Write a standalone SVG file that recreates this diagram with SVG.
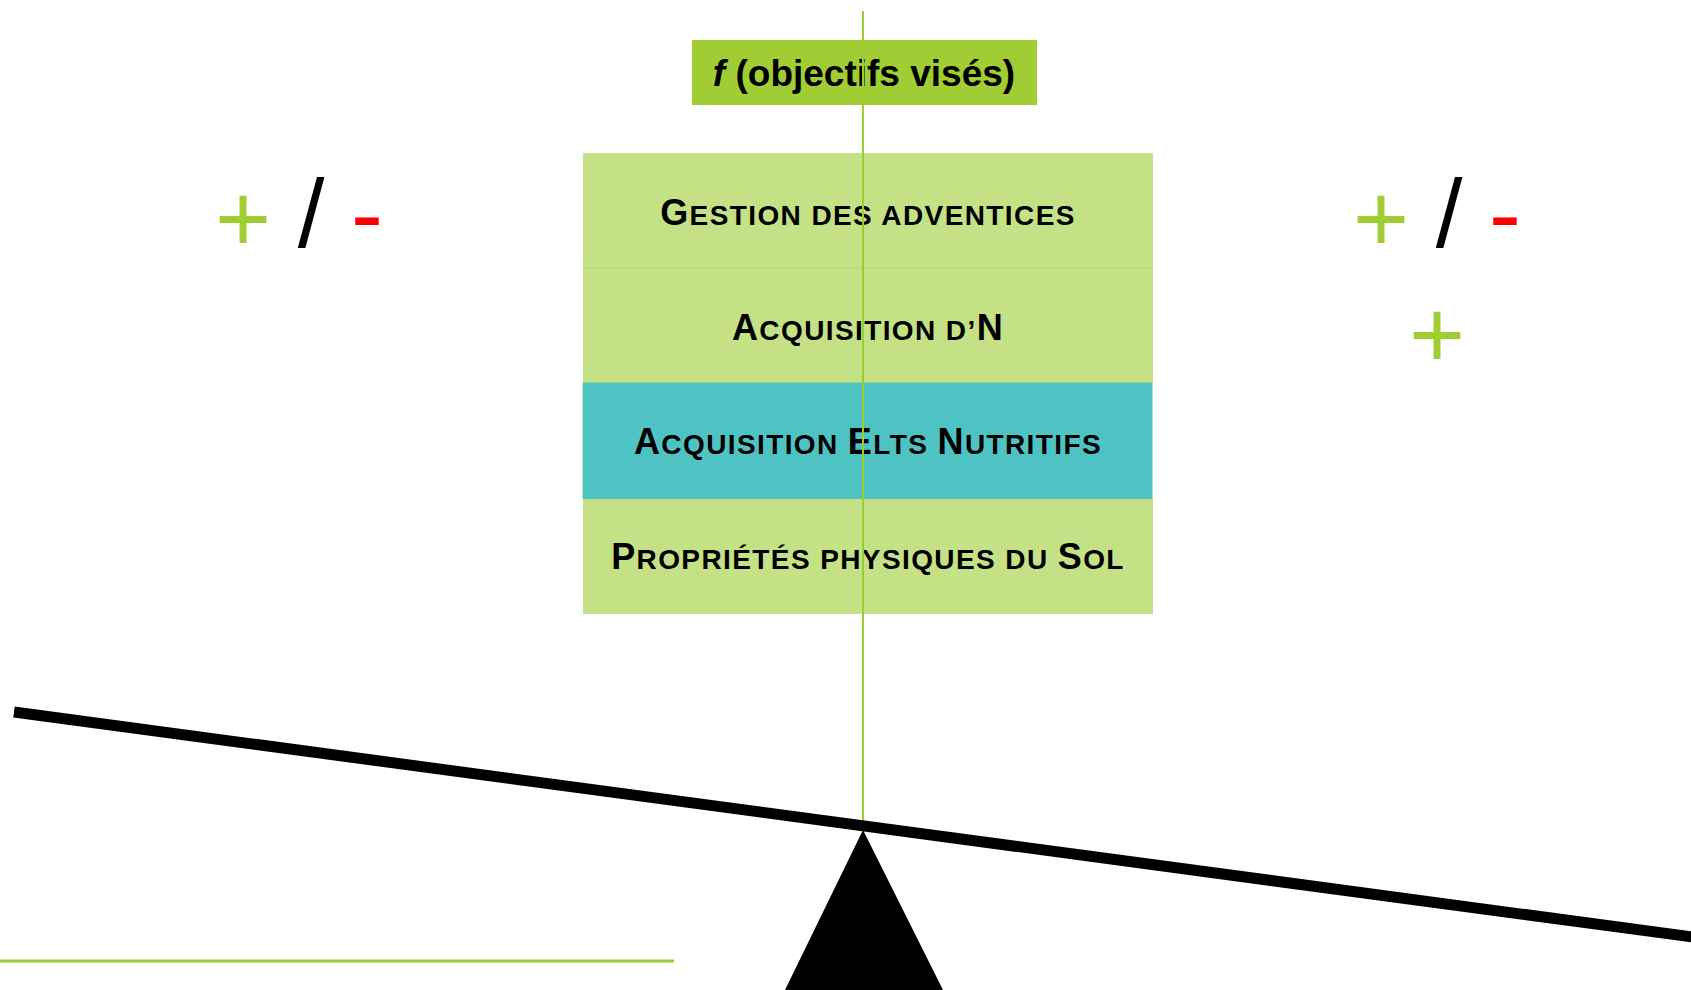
<svg xmlns="http://www.w3.org/2000/svg" width="1691" height="990" viewBox="0 0 1691 990">
<style>
.row{font-family:"Liberation Sans",Arial,sans-serif;font-weight:bold;fill:#000;text-anchor:middle;letter-spacing:1.4px}
.big{font-size:36px}
.sm{font-size:28px}
.sym{font-family:"Liberation Sans",Arial,sans-serif;font-size:96px;text-anchor:middle}
.plus{fill:#9fcd33}
.slash{fill:#000}
.minus{fill:#ff0000}
.lightrow{fill:#c5e186}
</style>
<rect width="1691" height="990" fill="#ffffff"/>
<g id="table">
<g id="row-adventices">
<rect class="lightrow" x="583" y="153" width="570" height="115"/>
<text class="row" x="868" y="225"><tspan class="big">G</tspan><tspan class="sm">ESTION DES ADVENTICES</tspan></text>
</g>
<g id="row-azote">
<rect class="lightrow" x="583" y="268" width="570" height="115"/>
<line x1="583" y1="268" x2="1153" y2="268" stroke="#b3d96a" stroke-width="1"/>
<text class="row" x="868" y="340"><tspan class="big">A</tspan><tspan class="sm">CQUISITION D’</tspan><tspan class="big">N</tspan></text>
</g>
<g id="row-nutritifs">
<rect x="583" y="383" width="569" height="116" fill="#4fc3c4" stroke="#56c9b6" stroke-width="1"/>
<text class="row" x="868" y="454"><tspan class="big">A</tspan><tspan class="sm">CQUISITION </tspan><tspan class="big">E</tspan><tspan class="sm">LTS </tspan><tspan class="big">N</tspan><tspan class="sm">UTRITIFS</tspan></text>
</g>
<g id="row-sol">
<rect class="lightrow" x="583" y="499" width="570" height="115"/>
<text class="row" x="868" y="569"><tspan class="big">P</tspan><tspan class="sm">ROPRIÉTÉS PHYSIQUES DU </tspan><tspan class="big">S</tspan><tspan class="sm">OL</tspan></text>
</g>
</g>
<g id="title">
<rect x="692" y="40" width="345" height="65" fill="#9fcd33"/>
<text x="864" y="86" font-family="'Liberation Sans',Arial,sans-serif" font-size="37" font-weight="bold" text-anchor="middle"><tspan font-style="italic">f</tspan> (objectifs visés)</text>
</g>
<g id="connectors">
<line x1="863" y1="11" x2="863" y2="826" stroke="#9acd32" stroke-width="2"/>
<line x1="0" y1="961" x2="674" y2="961" stroke="#9acd32" stroke-width="3"/>
</g>
<g id="balance">
<line x1="14" y1="712" x2="1700" y2="938" stroke="#000" stroke-width="11"/>
<polygon points="863,830 785,990 943,990" fill="#000"/>
</g>
<g id="left-signs">
<text class="sym plus" x="243" y="252">+</text>
<text class="sym slash" x="311" y="247">/</text>
<text class="sym minus" x="367" y="247">-</text>
</g>
<g id="right-signs">
<text class="sym plus" x="1381" y="252">+</text>
<text class="sym slash" x="1449" y="247">/</text>
<text class="sym minus" x="1505" y="247">-</text>
<text class="sym plus" x="1437" y="368">+</text>
</g>
</svg>
